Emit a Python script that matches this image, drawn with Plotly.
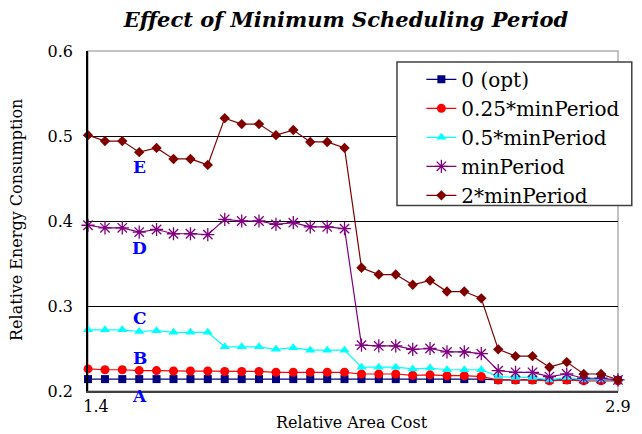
import plotly.graph_objects as go

area_cost = [1.400, 1.448, 1.497, 1.545, 1.594, 1.642, 1.690, 1.739, 1.787, 1.835,
             1.884, 1.932, 1.981, 2.029, 2.077, 2.126, 2.174, 2.223, 2.271, 2.319,
             2.368, 2.416, 2.465, 2.513, 2.561, 2.610, 2.658, 2.706, 2.755, 2.803,
             2.852, 2.900]

opt0 = [0.214, 0.214, 0.214, 0.214, 0.214, 0.214, 0.214, 0.214, 0.214, 0.214,
        0.214, 0.214, 0.214, 0.214, 0.214, 0.214, 0.214, 0.214, 0.214, 0.214,
        0.214, 0.214, 0.214, 0.214, 0.213, 0.213, 0.213, 0.213, 0.213, 0.213,
        0.213, 0.213]

p025 = [0.226, 0.225, 0.225, 0.224, 0.224, 0.2235, 0.2235, 0.2235, 0.223, 0.223,
        0.223, 0.222, 0.222, 0.222, 0.222, 0.222, 0.220, 0.220, 0.220, 0.2185,
        0.219, 0.218, 0.218, 0.217, 0.213, 0.213, 0.213, 0.212, 0.213, 0.212,
        0.212, 0.212]

p05 = [0.272, 0.272, 0.272, 0.270, 0.271, 0.269, 0.269, 0.269, 0.252, 0.252,
       0.252, 0.249, 0.251, 0.248, 0.248, 0.248, 0.228, 0.228, 0.228, 0.226,
       0.227, 0.225, 0.225, 0.225, 0.217, 0.216, 0.216, 0.213, 0.216, 0.213,
       0.213, 0.213]

p1 = [0.395, 0.392, 0.392, 0.387, 0.390, 0.385, 0.385, 0.384, 0.402, 0.400,
      0.400, 0.396, 0.398, 0.393, 0.393, 0.391, 0.254, 0.253, 0.253, 0.249,
      0.250, 0.246, 0.246, 0.244, 0.224, 0.222, 0.222, 0.217, 0.220, 0.215,
      0.215, 0.213]

p2 = [0.501, 0.494, 0.494, 0.481, 0.486, 0.473, 0.473, 0.466, 0.521, 0.514,
      0.514, 0.501, 0.507, 0.493, 0.493, 0.486, 0.345, 0.337, 0.337, 0.325,
      0.330, 0.317, 0.317, 0.309, 0.249, 0.241, 0.241, 0.228, 0.234, 0.220,
      0.220, 0.213]

series_names = ["0 (opt)", "0.25*minPeriod", "0.5*minPeriod", "minPeriod", "2*minPeriod"]
series_values = [opt0, p025, p05, p1, p2]
colors = ["#000080", "#ff0000", "#00ffff", "#800080", "#800000"]
symbols = ["square", "circle", "triangle-up", "asterisk-open", "diamond"]
sizes = [8, 9, 9, 11, 8]

x_tick_vals = [1.4, 2.9]
x_tick_text = ["\u2002\u20021.4", "2.9"]
y_tick_vals = [0.2, 0.3, 0.4, 0.5, 0.6]
y_tick_text = ["0.2", "0.3", "0.4", "0.5", "0.6"]

label_texts = ["A", "B", "C", "D", "E"]
label_x = [1.547, 1.547, 1.547, 1.547, 1.547]
label_y = [0.194, 0.239, 0.286, 0.368, 0.463]

SERIF = "DejaVu Serif"

fig = go.Figure()
for i, (name, vals, c, s, sz) in enumerate(zip(series_names, series_values, colors, symbols, sizes)):
    fig.add_trace(go.Scatter(
        x=area_cost, y=vals, name=name, mode="lines+markers",
        legendgroup="g%d" % i,
        line=dict(color=c, width=1.2),
        marker=dict(color=c, symbol=s, size=sz,
                    line=dict(color=c, width=1.3 if s == "asterisk-open" else 0)),
        cliponaxis=False,
    ))

for t, lx, ly in zip(label_texts, label_x, label_y):
    if ly < 0.2:
        fig.add_annotation(x=lx, xref="x", y=(ly - 0.2) / 0.4, yref="paper",
                           text="<b>" + t + "</b>", showarrow=False,
                           xanchor="center", yanchor="middle",
                           font=dict(family=SERIF, size=17, color="#0000ff"))
    else:
        fig.add_annotation(x=lx, y=ly, xref="x", yref="y", text="<b>" + t + "</b>",
                           showarrow=False, xanchor="center", yanchor="middle",
                           font=dict(family=SERIF, size=17, color="#0000ff"))

# axis titles as annotations
fig.add_annotation(x=0.498, y=-0.094, xref="paper", yref="paper",
                   text="Relative Area Cost", showarrow=False,
                   xanchor="center", yanchor="middle",
                   font=dict(family=SERIF, size=16, color="black"))
fig.add_annotation(x=-0.134, y=0.503, xref="paper", yref="paper",
                   text="Relative Energy Consumption", showarrow=False, textangle=-90,
                   xanchor="center", yanchor="middle",
                   font=dict(family=SERIF, size=16, color="black"))

# light frame (top/right)
fig.add_shape(type="rect", xref="paper", yref="paper", x0=0, y0=0, x1=1, y1=1,
              line=dict(color="#b0b0b0", width=1.5), layer="below")
# legend box
fig.add_shape(type="rect", xref="paper", yref="paper", x0=0.583, y0=0.5456, x1=1.026, y1=0.968,
              line=dict(color="#404040", width=1.5), fillcolor="white", layer="above")

fig.update_layout(
    width=634, height=426,
    margin=dict(l=80, r=24, t=43, b=43),
    paper_bgcolor="white", plot_bgcolor="white",
    font=dict(family=SERIF, size=16, color="black"),
    title=dict(text="<b><i>Effect of Minimum Scheduling Period</i></b>",
               x=0.533, xanchor="center", y=0.973, yanchor="middle",
               font=dict(family=SERIF, size=21, color="black")),
    xaxis=dict(range=[1.4, 2.9], tickvals=x_tick_vals, ticktext=x_tick_text,
               showgrid=False, zeroline=False, showline=True, linecolor="#404040",
               linewidth=1.5, ticks="", automargin=False,
               tickfont=dict(family=SERIF, size=16, color="black")),
    yaxis=dict(range=[0.2, 0.6], tickvals=y_tick_vals, ticktext=y_tick_text,
               showgrid=True, gridcolor="black", gridwidth=1, zeroline=False,
               showline=True, linecolor="black", linewidth=1.5,
               ticks="", ticklabelstandoff=10, automargin=False,
               tickfont=dict(family=SERIF, size=16, color="black")),
    legend=dict(x=0.629, y=0.974, xanchor="left", yanchor="top",
                bgcolor="rgba(0,0,0,0)", borderwidth=0,
                traceorder="grouped", tracegroupgap=0,
                font=dict(family=SERIF, size=20, color="black"), itemwidth=30),
    showlegend=True,
)

fig.write_html("out.html")
